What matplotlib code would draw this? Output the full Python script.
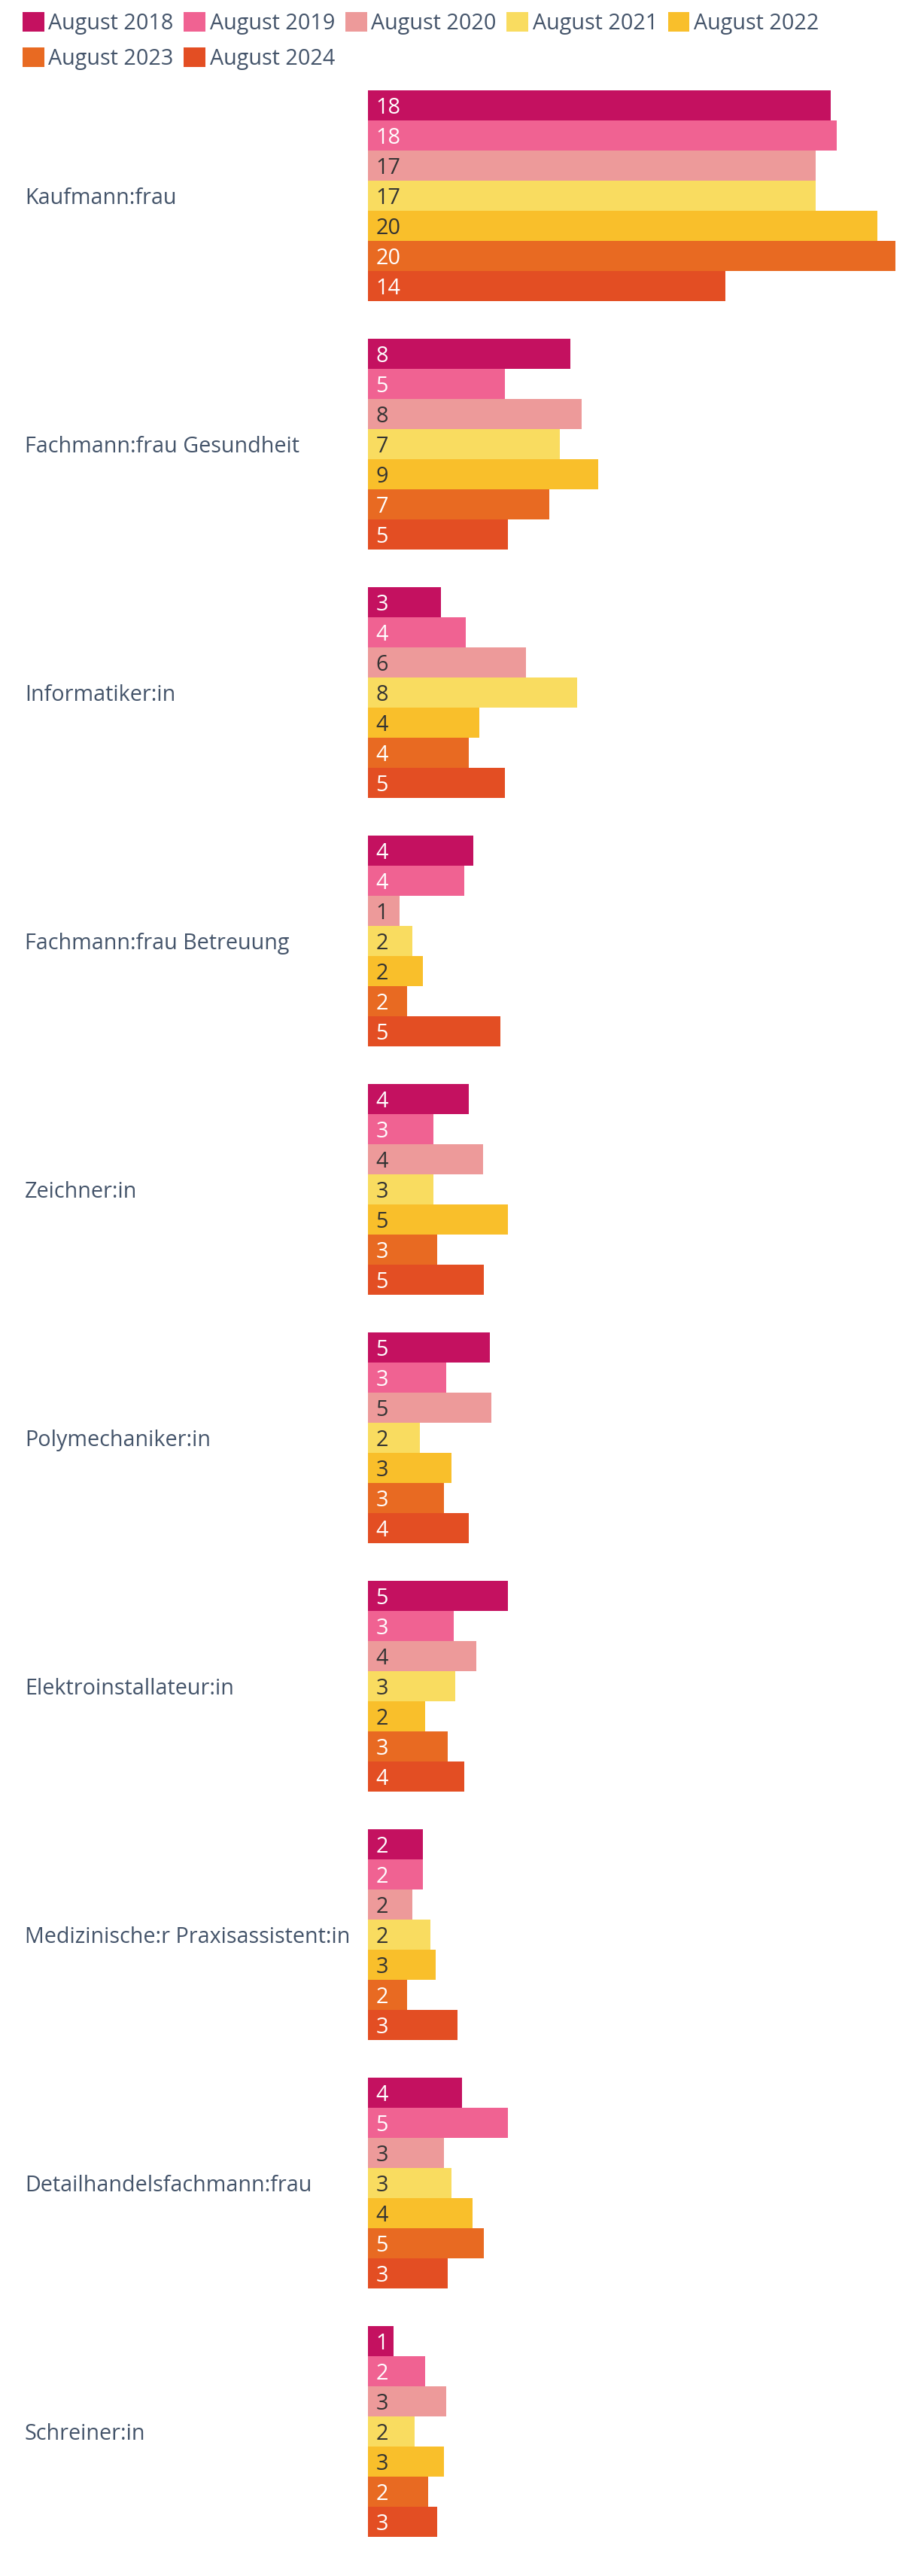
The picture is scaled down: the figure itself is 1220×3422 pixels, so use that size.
import matplotlib
matplotlib.use('Agg')
import matplotlib.pyplot as plt
from matplotlib.transforms import blended_transform_factory
from matplotlib.patches import Patch

categories = ['Kaufmann:frau', 'Fachmann:frau Gesundheit', 'Informatiker:in',
              'Fachmann:frau Betreuung', 'Zeichner:in', 'Polymechaniker:in',
              'Elektroinstallateur:in', 'Medizinische:r Praxisassistent:in',
              'Detailhandelsfachmann:frau', 'Schreiner:in']
years = ['August 2018', 'August 2019', 'August 2020', 'August 2021',
         'August 2022', 'August 2023', 'August 2024']
v2018 = [17.95, 7.85, 2.82, 4.10, 3.91, 4.73, 5.44, 2.12, 3.64, 1.00]
v2019 = [18.20, 5.32, 3.80, 3.75, 2.53, 3.05, 3.34, 2.12, 5.44, 2.23]
v2020 = [17.38, 8.30, 6.14, 1.23, 4.46, 4.80, 4.21, 1.71, 2.94, 3.05]
v2021 = [17.38, 7.44, 8.12, 1.71, 2.53, 2.00, 3.39, 2.41, 3.23, 1.82]
v2022 = [19.77, 8.94, 4.32, 2.12, 5.44, 3.23, 2.23, 2.64, 4.05, 2.94]
v2023 = [20.48, 7.03, 3.91, 1.52, 2.68, 2.94, 3.09, 1.52, 4.51, 2.34]
v2024 = [13.86, 5.44, 5.32, 5.14, 4.51, 3.91, 3.75, 3.48, 3.09, 2.68]
series = [v2018, v2019, v2020, v2021, v2022, v2023, v2024]

colors = ['#C41160', '#F06292', '#ED9A9A', '#F9DC60', '#F9BF2B', '#E86A22', '#E34E23']
label_colors = ['white', 'white', '#333333', '#333333', '#333333', 'white', 'white']
text_color = '#44546A'

plt.rcParams['font.family'] = ['Open Sans', 'DejaVu Sans']
FS = 20.7

W, H = 1220, 3422
fig = plt.figure(figsize=(W / 100, H / 100), dpi=100)
fig.patch.set_facecolor('white')

ax_left, ax_right = 489, 1220
ax_top, ax_bottom = 95, 3395
ax = fig.add_axes([ax_left / W, (H - ax_bottom) / H, (ax_right - ax_left) / W, (ax_bottom - ax_top) / H])

pitch = 8.25
for j, vals in enumerate(series):
    ys = [i * pitch + j for i in range(len(categories))]
    ax.barh(ys, vals, height=1.0, color=colors[j], edgecolor='none', label=years[j])
    for y, v in zip(ys, vals):
        ax.annotate(str(int(v + 0.5)), xy=(0, y), xytext=(7.5, 0), textcoords='offset points',
                    ha='left', va='center_baseline', fontsize=FS, color=label_colors[j])

ax.set_xlim(0, (ax_right - ax_left) / 34.25)
ax.set_ylim(len(categories) * pitch - pitch + 6.5 + 0.625, -1.125)
ax.axis('off')

tr = blended_transform_factory(fig.transFigure, ax.transData)
for i, cat in enumerate(categories):
    ax.text(33 / W, i * pitch + 3, cat, transform=tr, ha='left', va='center_baseline',
            fontsize=FS, color=text_color)

# legend filled row-wise (matplotlib fills column-wise)
order = [0, 5, 1, 6, 2, 3, 4]
handles = [Patch(facecolor=colors[k], edgecolor='none') for k in order]
labels = [years[k] for k in order]
fig.legend(handles, labels, loc='upper left', bbox_to_anchor=(30 / W, 1 - 16 / H),
           ncol=5, frameon=False, fontsize=FS, handlelength=1.0, handleheight=1.0,
           handletextpad=0.2, columnspacing=0.47, labelspacing=0.6, borderpad=0,
           borderaxespad=0, labelcolor=text_color)

fig.savefig('out.png', dpi=100, facecolor='white')
